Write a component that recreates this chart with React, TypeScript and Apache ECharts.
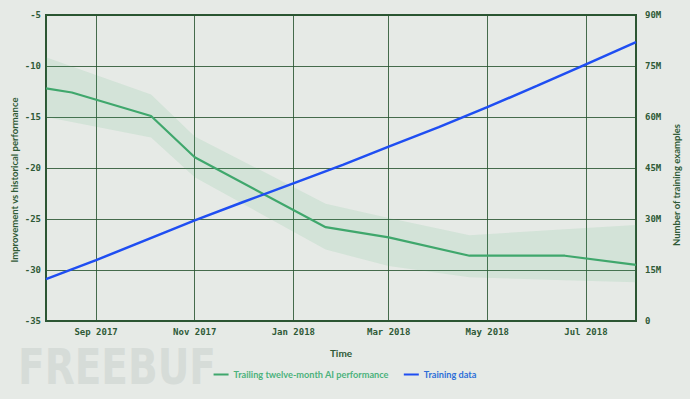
import React, { useEffect, useRef } from "react";
import * as echarts from "echarts";

// AI performance (improvement vs historical performance)
const perfDates = ["2017-08-01", "2017-08-17", "2017-10-05", "2017-11-01", "2018-01-21", "2018-03-01", "2018-04-20", "2018-06-18", "2018-08-01"];
const perfValues = [-12.2, -12.6, -14.9, -18.95, -25.8, -26.8, -28.6, -28.6, -29.5];
const perfUpper = [-9.15, -10.05, -12.8, -16.9, -23.5, -24.9, -26.6, -26.0, -25.6];
const perfLower = [-15.0, -15.5, -17.0, -20.9, -28.0, -29.6, -30.7, -31.0, -31.2];

// Training data (millions of examples)
const trainDates = ["2017-08-01", "2017-09-01", "2017-11-01", "2017-12-01", "2018-01-01", "2018-02-01", "2018-03-01", "2018-04-01", "2018-05-01", "2018-06-01", "2018-07-01", "2018-08-01"];
const trainValues = [12.3, 17.9, 29.6, 35.0, 40.5, 46.0, 51.3, 57.0, 62.9, 69.2, 75.5, 82.0];

const xMin = "2017-08-01";
const xMax = "2018-08-01";
const monthNames = ["Jan", "Feb", "Mar", "Apr", "May", "Jun", "Jul", "Aug", "Sep", "Oct", "Nov", "Dec"];

const t = (s: string) => new Date(s + "T00:00:00").getTime();

const GRID = "rgba(40,85,48,0.85)";
const AXIS = "#2c5633";
const LABEL = "#2f5a37";
const TITLE = "#2f5a36";
const GREEN = "#3fa76c";
const BLUE = "#1f4ef2";

export default function App() {
  const ref = useRef<HTMLDivElement>(null);
  useEffect(() => {
    if (!ref.current) return;
    const chart = echarts.init(ref.current, undefined, { renderer: "svg" });
    const monoLabel = { color: LABEL, fontFamily: "DejaVu Sans Mono", fontWeight: "bold" as const, fontSize: 9 };
    chart.setOption({
      animation: false,
      backgroundColor: "#e6eae6",
      grid: { left: 46, right: 54, top: 15, bottom: 78, show: true, borderColor: AXIS, borderWidth: 2, containLabel: false },
      legend: {
        bottom: 15,
        left: "center",
        itemWidth: 15,
        itemHeight: 10,
        itemGap: 15,
        icon: "path://M0,4 L15,4 L15,6 L0,6 Z",
        textStyle: { fontFamily: "Lato", fontWeight: "bold", fontSize: 9.2 },
        data: [
          { name: "Trailing twelve-month AI performance", textStyle: { color: "#4cb27c" }, itemStyle: { color: GREEN } },
          { name: "Training data", textStyle: { color: "#2e6fd8" }, itemStyle: { color: BLUE } },
        ],
      },
      xAxis: {
        type: "time",
        min: t(xMin),
        max: t(xMax),
        splitNumber: 6,
        name: "Time",
        nameLocation: "middle",
        nameGap: 27,
        nameTextStyle: { color: TITLE, fontFamily: "Lato", fontWeight: "bold", fontSize: 10 },
        axisLine: { show: true, lineStyle: { color: AXIS, width: 2 } },
        axisTick: { show: false },
        splitLine: { show: true, lineStyle: { color: GRID, width: 1 } },
        minorTick: { show: false },
        axisLabel: {
          ...monoLabel,
          margin: 6,
          showMinLabel: false,
          showMaxLabel: false,
          hideOverlap: false,
          formatter: (v: number) => {
            const d = new Date(v);
            return monthNames[d.getMonth()] + " " + d.getFullYear();
          },
        },
      },
      yAxis: [
        {
          type: "value",
          min: -35,
          max: -5,
          interval: 5,
          position: "left",
          axisLine: { show: true, lineStyle: { color: AXIS, width: 2 } },
          axisTick: { show: false },
          splitLine: { show: true, lineStyle: { color: GRID, width: 1 } },
          axisLabel: { ...monoLabel, margin: 5 },
        },
        {
          type: "value",
          min: 0,
          max: 90,
          interval: 15,
          position: "right",
          axisLine: { show: true, lineStyle: { color: AXIS, width: 2 } },
          axisTick: { show: false },
          splitLine: { show: false },
          axisLabel: { ...monoLabel, margin: 9, formatter: (v: number) => (v === 0 ? "0" : v + "M") },
        },
      ],
      graphic: [
        {
          type: "text",
          x: 18,
          y: 367,
          z: -1,
          scaleX: 0.78,
          style: { text: "FREEBUF", fill: "#d6dcd8", font: "bold 50px 'DejaVu Sans'", lineHeight: 40, verticalAlign: "middle", align: "left" },
        },
        {
          type: "text",
          x: 14,
          y: 180,
          rotation: Math.PI / 2,
          style: {
            text: "Improvement vs historical performance",
            fill: TITLE,
            font: "bold 9.5px Lato",
            align: "center",
            verticalAlign: "middle",
          },
        },
        {
          type: "text",
          x: 676,
          y: 185,
          rotation: Math.PI / 2,
          style: {
            text: "Number of training examples",
            fill: TITLE,
            font: "bold 9.5px Lato",
            align: "center",
            verticalAlign: "middle",
          },
        },
      ],
      series: [
        {
          name: "band-lower",
          type: "line",
          stack: "band",
          stackStrategy: "all",
          symbol: "none",
          silent: true,
          lineStyle: { opacity: 0 },
          data: perfDates.map((d, i) => [t(d), perfLower[i]]),
          z: 1,
        },
        {
          name: "band-range",
          type: "line",
          stack: "band",
          stackStrategy: "all",
          symbol: "none",
          silent: true,
          lineStyle: { opacity: 0 },
          areaStyle: { color: "rgba(70,175,110,0.17)" },
          data: perfDates.map((d, i) => [t(d), +(perfUpper[i] - perfLower[i]).toFixed(2)]),
          z: 1,
        },
        {
          name: "Trailing twelve-month AI performance",
          type: "line",
          symbol: "none",
          lineStyle: { color: GREEN, width: 2.2 },
          itemStyle: { color: GREEN },
          data: perfDates.map((d, i) => [t(d), perfValues[i]]),
          z: 3,
        },
        {
          name: "Training data",
          type: "line",
          yAxisIndex: 1,
          symbol: "none",
          lineStyle: { color: BLUE, width: 2.5 },
          itemStyle: { color: BLUE },
          data: trainDates.map((d, i) => [t(d), trainValues[i]]),
          z: 4,
        },
      ],
    });
    return () => chart.dispose();
  }, []);
  return <div ref={ref} style={{ position: "absolute", left: 0, top: 0, width: 690, height: 399 }} />;
}
